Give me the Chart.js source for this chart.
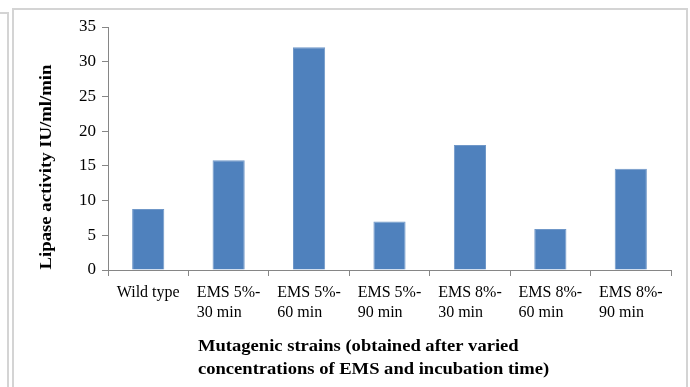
<!DOCTYPE html>
<html>
<head>
<meta charset="utf-8">
<script src="https://cdn.jsdelivr.net/npm/chart.js@4/dist/chart.umd.min.js"></script>
<style>
  body { margin: 0; background: #fff; }
  #wrap { position: relative; width: 690px; height: 387px; overflow: hidden; }
  #lipaseChart { position: absolute; left: 0; top: 0; }
  .line { position: absolute; background: #d4d4d4; }
</style>
</head>
<body>
<div id="wrap">
  <div class="line" style="left:0;top:12px;width:9px;height:2px;"></div>
  <div class="line" style="left:7px;top:12px;width:2px;height:375px;"></div>
  <div class="line" style="left:12px;top:8px;width:2px;height:379px;"></div>
  <div class="line" style="left:12px;top:8px;width:676px;height:2px;"></div>
  <div class="line" style="left:686px;top:8px;width:2px;height:379px;"></div>
  <canvas id="lipaseChart" width="690" height="387"></canvas>
</div>
<script>
const strains = [
    ['Wild type'],
    ['EMS 5%-', '30 min'],
    ['EMS 5%-', '60 min'],
    ['EMS 5%-', '90 min'],
    ['EMS 8%-', '30 min'],
    ['EMS 8%-', '60 min'],
    ['EMS 8%-', '90 min']
];
const lipaseActivity = [8.8, 15.8, 32.1, 7.0, 18.0, 5.9, 14.6];
const yTicks = [0, 5, 10, 15, 20, 25, 30, 35];

const yTitle = 'Lipase activity IU/ml/min';
const xTitle = ['Mutagenic strains (obtained after varied', 'concentrations of EMS and incubation time)'];

const serif = '"Liberation Serif", "Times New Roman", serif';

// category labels: each block centred under its bar, lines left aligned
const xLabelsPlugin = {
    id: 'xLabels',
    afterDraw(chart) {
        const ctx = chart.ctx;
        const xs = chart.scales.x;
        const top = chart.chartArea.bottom + 23;
        ctx.save();
        ctx.fillStyle = '#000';
        ctx.font = '16px ' + serif;
        ctx.textBaseline = 'middle';
        ctx.textAlign = 'left';
        strains.forEach((lines, i) => {
            const w = Math.max(...lines.map(l => ctx.measureText(l).width));
            const left = xs.getPixelForTick(i) - w / 2;
            lines.forEach((l, j) => ctx.fillText(l, left, top + j * 20));
        });
        ctx.restore();
    }
};

// axis titles drawn by hand: the x title is left aligned in two lines,
// and the original type is a little wider than Liberation Serif
const titlesPlugin = {
    id: 'titles',
    afterDraw(chart) {
        const ctx = chart.ctx;
        ctx.save();
        ctx.fillStyle = '#000';
        ctx.font = 'bold 16px ' + serif;
        ctx.textBaseline = 'middle';
        ctx.textAlign = 'left';
        ctx.save();
        ctx.translate(198, 347);
        ctx.scale(1.16, 1);
        ctx.fillText(xTitle[0], 0, 0);
        ctx.fillText(xTitle[1], 0, 23);
        ctx.restore();

        ctx.translate(47, 167);
        ctx.rotate(-Math.PI / 2);
        ctx.scale(1.17, 1);
        ctx.textAlign = 'center';
        ctx.fillText(yTitle, 0, 0);
        ctx.restore();
    }
};

const ctx = document.getElementById('lipaseChart');
new Chart(ctx, {
    type: 'bar',
    data: {
        labels: strains,
        datasets: [{
            label: 'Lipase activity',
            data: lipaseActivity,
            backgroundColor: '#4f81bd',
            borderColor: '#6f97c8',
            borderWidth: 1,
            categoryPercentage: 1,
            barPercentage: 0.4
        }]
    },
    options: {
        responsive: false,
        animation: false,
        layout: { padding: { top: 27, right: 19, left: 0, bottom: 0 } },
        plugins: {
            legend: { display: false },
            tooltip: { enabled: false }
        },
        scales: {
            x: {
                offset: true,
                grid: {
                    offset: true,
                    drawOnChartArea: false,
                    drawTicks: true,
                    tickLength: 6,
                    color: '#868686'
                },
                border: { color: '#868686', width: 1 },
                ticks: {
                    color: 'rgba(0,0,0,0)',
                    font: { family: serif, size: 16, lineHeight: 1.25 },
                    padding: 7,
                    maxRotation: 0,
                    autoSkip: false
                },
                afterFit(scale) { scale.height = 117; }
            },
            y: {
                min: 0,
                max: 35,
                afterBuildTicks(scale) {
                    scale.ticks = yTicks.map(v => ({ value: v }));
                },
                grid: {
                    drawOnChartArea: false,
                    drawTicks: true,
                    tickLength: 6,
                    color: '#868686'
                },
                border: { color: '#868686', width: 1 },
                ticks: {
                    color: '#000',
                    font: { family: serif, size: 17 },
                    padding: 6
                },
                afterFit(scale) { scale.width = 108; }
            }
        }
    },
    plugins: [xLabelsPlugin, titlesPlugin]
});
</script>
</body>
</html>
